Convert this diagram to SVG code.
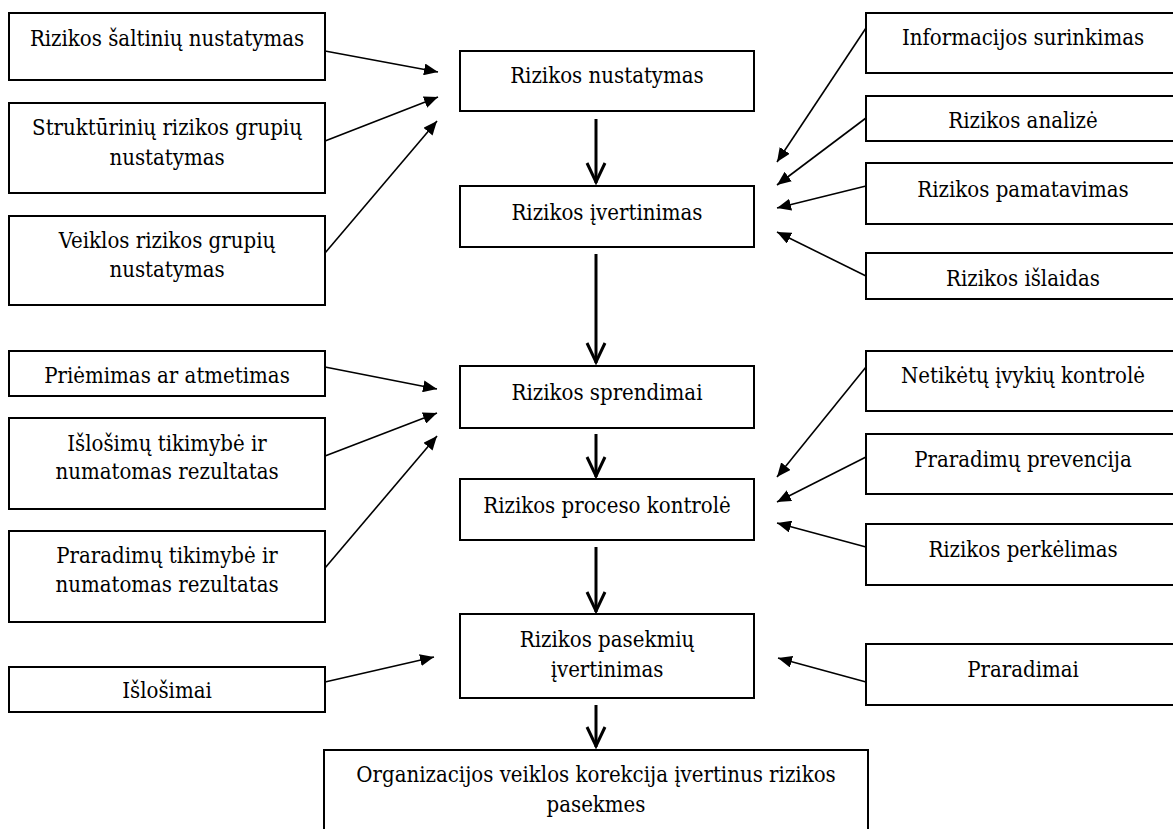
<svg xmlns="http://www.w3.org/2000/svg" width="1173" height="829" viewBox="0 0 1173 829">
  <style>
    .box { fill: #fff; stroke: #000; stroke-width: 2; }
    text { font-family: "DejaVu Serif Condensed", "DejaVu Serif", serif; font-stretch: condensed; font-size: 22px; fill: #000; text-anchor: middle; }
    .thin { stroke: #000; stroke-width: 1.6; fill: none; marker-end: url(#tri); }
    .main { stroke: #000; stroke-width: 3; fill: none; marker-end: url(#vee); }
  </style>
  <defs>
    <marker id="tri" markerUnits="userSpaceOnUse" markerWidth="16" markerHeight="12" refX="14" refY="6" orient="auto">
      <path d="M0,0 L14,6 L0,12 z" fill="#000"/>
    </marker>
    <marker id="vee" markerUnits="userSpaceOnUse" markerWidth="24" markerHeight="24" refX="21" refY="10" orient="auto" overflow="visible">
      <path d="M1,1 L20,10 L1,19" fill="none" stroke="#000" stroke-width="3"/>
    </marker>
  </defs>
  <rect width="1173" height="829" fill="#fff"/>

  <!-- main chain -->
  <g id="n-nustatymas"><rect class="box" x="460" y="51" width="294" height="60"/><text x="607" y="83">Rizikos nustatymas</text></g>
  <g id="n-ivertinimas"><rect class="box" x="460" y="186" width="294" height="61"/><text x="607" y="220">Rizikos įvertinimas</text></g>
  <g id="n-sprendimai"><rect class="box" x="460" y="366" width="294" height="62"/><text x="607" y="400">Rizikos sprendimai</text></g>
  <g id="n-kontrole"><rect class="box" x="460" y="479" width="294" height="61"/><text x="607" y="513">Rizikos proceso kontrolė</text></g>
  <g id="n-pasekmes"><rect class="box" x="460" y="614" width="294" height="84"/><text x="607" y="647">Rizikos pasekmių</text><text x="607" y="677">įvertinimas</text></g>
  <g id="n-korekcija"><rect class="box" x="324" y="750" width="544" height="100"/><text x="596" y="782">Organizacijos veiklos korekcija įvertinus rizikos</text><text x="596" y="812">pasekmes</text></g>

  <!-- left inputs -->
  <g id="n-saltiniai"><rect class="box" x="9" y="13" width="316" height="67"/><text x="167" y="46">Rizikos šaltinių nustatymas</text></g>
  <g id="n-strukturines"><rect class="box" x="9" y="103" width="316" height="90"/><text x="167" y="135">Struktūrinių rizikos grupių</text><text x="167" y="165">nustatymas</text></g>
  <g id="n-veiklos"><rect class="box" x="9" y="216" width="316" height="89"/><text x="167" y="248">Veiklos rizikos grupių</text><text x="167" y="277">nustatymas</text></g>
  <g id="n-priemimas"><rect class="box" x="9" y="351" width="316" height="45"/><text x="167" y="383">Priėmimas ar atmetimas</text></g>
  <g id="n-islosimu"><rect class="box" x="9" y="418" width="316" height="91"/><text x="167" y="451">Išlošimų tikimybė ir</text><text x="167" y="479">numatomas rezultatas</text></g>
  <g id="n-praradimu"><rect class="box" x="9" y="531" width="316" height="91"/><text x="167" y="563">Praradimų tikimybė ir</text><text x="167" y="592">numatomas rezultatas</text></g>
  <g id="n-islosimai"><rect class="box" x="9" y="667" width="316" height="45"/><text x="167" y="698">Išlošimai</text></g>

  <!-- right inputs -->
  <g id="n-informacija"><rect class="box" x="866" y="13" width="316" height="60"/><text x="1023" y="45">Informacijos surinkimas</text></g>
  <g id="n-analize"><rect class="box" x="866" y="96" width="316" height="45"/><text x="1023" y="128">Rizikos analizė</text></g>
  <g id="n-pamatavimas"><rect class="box" x="866" y="163" width="316" height="61"/><text x="1023" y="197">Rizikos pamatavimas</text></g>
  <g id="n-islaidos"><rect class="box" x="866" y="253" width="316" height="46"/><text x="1023" y="286">Rizikos išlaidas</text></g>
  <g id="n-netiketi"><rect class="box" x="866" y="351" width="316" height="60"/><text x="1023" y="383">Netikėtų įvykių kontrolė</text></g>
  <g id="n-prevencija"><rect class="box" x="866" y="434" width="316" height="60"/><text x="1023" y="467">Praradimų prevencija</text></g>
  <g id="n-perkelimas"><rect class="box" x="866" y="524" width="316" height="61"/><text x="1023" y="557">Rizikos perkėlimas</text></g>
  <g id="n-praradimai"><rect class="box" x="866" y="644" width="316" height="61"/><text x="1023" y="677">Praradimai</text></g>

  <g id="connectors">
    <!-- main flow -->
    <line class="main" x1="596" y1="119" x2="596" y2="183"/>
    <line class="main" x1="596" y1="254" x2="596" y2="363"/>
    <line class="main" x1="596" y1="434" x2="596" y2="477"/>
    <line class="main" x1="596" y1="547" x2="596" y2="612"/>
    <line class="main" x1="596" y1="705" x2="596" y2="747"/>
    <!-- left side -->
    <line class="thin" x1="325" y1="51" x2="438" y2="72"/>
    <line class="thin" x1="325" y1="141" x2="438" y2="97"/>
    <line class="thin" x1="325" y1="253" x2="437" y2="121"/>
    <line class="thin" x1="325" y1="367" x2="437" y2="389"/>
    <line class="thin" x1="325" y1="456" x2="437" y2="413"/>
    <line class="thin" x1="325" y1="568" x2="437" y2="436"/>
    <line class="thin" x1="325" y1="682" x2="434" y2="657"/>
    <!-- right side -->
    <line class="thin" x1="866" y1="28" x2="777" y2="162"/>
    <line class="thin" x1="866" y1="118" x2="777" y2="185"/>
    <line class="thin" x1="866" y1="186" x2="777" y2="208"/>
    <line class="thin" x1="866" y1="276" x2="777" y2="232"/>
    <line class="thin" x1="866" y1="367" x2="777" y2="477"/>
    <line class="thin" x1="866" y1="457" x2="777" y2="502"/>
    <line class="thin" x1="866" y1="547" x2="777" y2="523"/>
    <line class="thin" x1="866" y1="682" x2="778" y2="658"/>
  </g>
</svg>
